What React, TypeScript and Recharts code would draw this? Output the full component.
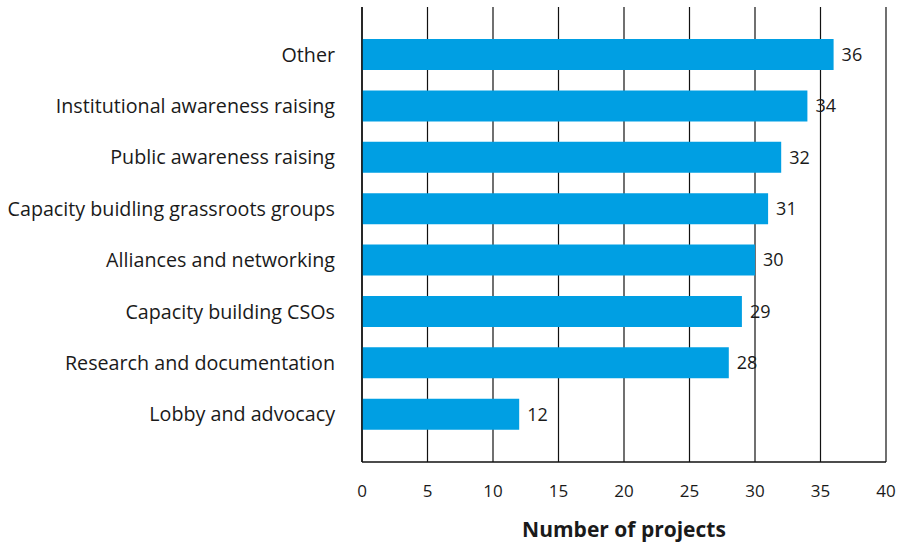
import { Bar, BarChart, CartesianGrid, LabelList, XAxis, YAxis, Label } from 'recharts'

const FONT = '"Open Sans", Lato, sans-serif'
const INK = '#1a1a1a'
const BLUE = '#009FE3'

const categories = [
  'Other',
  'Institutional awareness raising',
  'Public awareness raising',
  'Capacity buidling grassroots groups',
  'Alliances and networking',
  'Capacity building CSOs',
  'Research and documentation',
  'Lobby and advocacy',
]
const projects = [36, 34, 32, 31, 30, 29, 28, 12]
const xTicks = [0, 5, 10, 15, 20, 25, 30, 35, 40]

const data = categories.map((name, i) => ({ name, value: projects[i] }))

export default function App() {
  return (
    <div style={{ position: 'absolute', left: 0, top: 0, width: 903, height: 543, background: '#fff' }}>
      <BarChart
        width={903}
        height={543}
        data={data}
        layout="vertical"
        margin={{ top: 7, right: 17, left: 0, bottom: 0 }}
      >
        <CartesianGrid horizontal={false} stroke="#111" strokeWidth={1.2} />
        <XAxis
          type="number"
          domain={[0, 40]}
          ticks={xTicks}
          interval={0}
          height={81}
          tickLine={false}
          tickSize={0}
          tickMargin={23}
          axisLine={{ stroke: '#111', strokeWidth: 1.5 }}
          tick={{ fill: INK, fontSize: 17, fontFamily: FONT }}
        >
          <Label
            value="Number of projects"
            position="insideBottom"
            offset={6}
            style={{ fill: INK, fontSize: 21, fontWeight: 700, fontFamily: FONT }}
          />
        </XAxis>
        <YAxis
          type="category"
          dataKey="name"
          width={362}
          padding={{ top: 22, bottom: 22 }}
          tickLine={false}
          tickSize={0}
          tickMargin={27}
          axisLine={{ stroke: '#111', strokeWidth: 1.5 }}
          tick={{ fill: INK, fontSize: 19.7, fontFamily: FONT }}
        />
        <Bar dataKey="value" fill={BLUE} barSize={31} isAnimationActive={false}>
          <LabelList
            dataKey="value"
            position="right"
            offset={8}
            style={{ fill: INK, fontSize: 18, fontFamily: FONT }}
          />
        </Bar>
      </BarChart>
    </div>
  )
}
